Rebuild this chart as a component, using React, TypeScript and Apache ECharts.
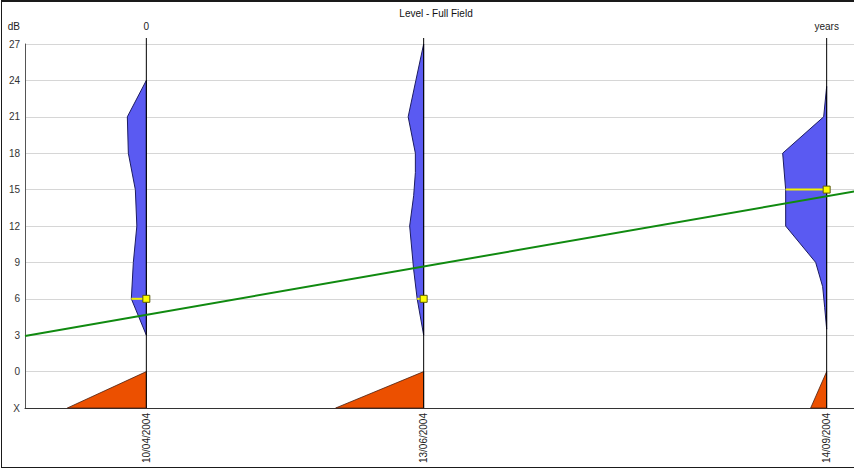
import React, { useEffect, useRef } from "react";
import * as echarts from "echarts";

const TITLE = "Level - Full Field";
const Y_NAME = "dB";
const Y_MIN = -3;
const Y_MAX = 27;
const Y_STEP = 3;
const X_RANGE = ["2004-03-13", "2004-09-21"];
const VISIT_DATES = ["2004-04-10", "2004-06-13", "2004-09-14"];
const TOP_LABELS = ["0", "", "years"];

// spread (blue profile) per visit: dB levels and widths
const SPREAD_DB_1 = [24, 21, 18, 15, 12, 9, 6, 3];
const SPREAD_W_1 = [0, 19, 18, 11, 9.5, 13, 15, 0];
const SPREAD_DB_2 = [27, 24, 21, 18, 16.4, 14.5, 12, 8.4, 6, 3];
const SPREAD_W_2 = [0, 7.8, 15.5, 8.3, 8.3, 10, 14, 10, 6.5, 0];
const SPREAD_DB_3 = [23.5, 21, 18, 15, 12, 9, 7, 5.3, 3.5];
const SPREAD_W_3 = [0, 3, 44, 41, 41, 11, 4, 2, 0];

// level marker per visit (dB)
const MARKER_DB = [6, 6, 15];
// share of "X" (orange wedge) per visit
const X_SHARE = [79, 88, 16];

// trend line
const TREND_DATES = ["2004-03-13", "2004-09-21"];
const TREND_DB = [2.93, 14.89];

const SPREADS = [
  { db: SPREAD_DB_1, w: SPREAD_W_1 },
  { db: SPREAD_DB_2, w: SPREAD_W_2 },
  { db: SPREAD_DB_3, w: SPREAD_W_3 },
];

const toMs = (s: string) => {
  const [y, m, d] = s.split("-").map(Number);
  return Date.UTC(y, m - 1, d);
};
const pad = (n: number) => (n < 10 ? "0" + n : String(n));
const fmtDate = (v: number) => {
  const d = new Date(v);
  return `${pad(d.getUTCDate())}/${pad(d.getUTCMonth() + 1)}/${d.getUTCFullYear()}`;
};

const FONT = "'Liberation Sans', Arial, sans-serif";
const SPREAD_PX = 1;

export default function App() {
  const ref = useRef<HTMLDivElement>(null);
  useEffect(() => {
    if (!ref.current) return;
    const chart = echarts.init(ref.current, undefined, { renderer: "svg" });
    const visitMs = VISIT_DATES.map(toMs);
    const xMin = toMs(X_RANGE[0]);
    const xMax = toMs(X_RANGE[1]);

    const option: any = {
      animation: false,
      backgroundColor: "#ffffff",
      textStyle: { fontFamily: FONT },
      title: {
        text: TITLE,
        left: 431,
        top: 3,
        textAlign: "center",
        textStyle: { fontSize: 10, fontWeight: "normal", color: "#111", fontFamily: FONT },
      },
      grid: { left: 25, right: 3, top: 44, bottom: 61, containLabel: false },
      xAxis: [
        {
          type: "value",
          min: xMin,
          max: xMax,
          position: "bottom",
          axisLine: { show: true, onZero: false, lineStyle: { color: "#333", width: 1 } },
          axisTick: { show: false },
          splitLine: { show: false },
          axisLabel: {
            customValues: visitMs,
            rotate: 90,
            margin: 5,
            fontSize: 10,
            color: "#222",
            fontFamily: FONT,
            formatter: (v: number) => fmtDate(v),
          },
        },
        {
          type: "value",
          min: xMin,
          max: xMax,
          position: "top",
          axisLine: { show: false, onZero: false },
          axisTick: { show: false },
          splitLine: { show: false },
          axisLabel: {
            customValues: visitMs.filter((_, i) => TOP_LABELS[i] !== ""),
            margin: 13,
            fontSize: 10,
            color: "#222",
            fontFamily: FONT,
            formatter: (v: number) => TOP_LABELS[visitMs.indexOf(v)],
          },
        },
      ],
      yAxis: {
        type: "value",
        min: Y_MIN,
        max: Y_MAX,
        interval: Y_STEP,
        name: Y_NAME,
        nameLocation: "end",
        nameGap: 13,
        nameTextStyle: { align: "right", padding: [0, 5, 0, 0], fontSize: 10, color: "#222", fontFamily: FONT },
        axisLine: { show: true, onZero: false, lineStyle: { color: "#555", width: 1 } },
        axisTick: { show: false },
        splitLine: { show: true, lineStyle: { color: "#d6d6d6", width: 1 } },
        axisLabel: {
          margin: 5,
          fontSize: 10,
          color: "#333",
          fontFamily: FONT,
          formatter: (v: number) => (v === Y_MIN ? "X" : String(v)),
        },
      },
      series: [
        {
          type: "custom",
          z: 2,
          clip: false,
          xAxisIndex: 0,
          data: visitMs.map((ms, i) => [ms, i]),
          encode: { x: 0, y: 1 },
          renderItem: (_params: any, api: any) => {
            const d = api.value(0);
            const i = api.value(1);
            const sp = SPREADS[i];
            const pts = sp.db.map((db: number, k: number) => {
              const p = api.coord([d, db]);
              return [p[0] - sp.w[k] * SPREAD_PX, p[1]];
            });
            const top = api.coord([d, Y_MAX]);
            const bot = api.coord([d, Y_MIN]);
            const zero = api.coord([d, 0]);
            const k = sp.db.indexOf(MARKER_DB[i]);
            const mw = k >= 0 ? sp.w[k] * SPREAD_PX : 0;
            const m = api.coord([d, MARKER_DB[i]]);
            return {
              type: "group",
              children: [
                {
                  type: "polygon",
                  shape: { points: [zero, bot, [bot[0] - X_SHARE[i] * SPREAD_PX, bot[1]]] },
                  style: { fill: "#ec5000", stroke: "#4a2010", lineWidth: 0.8 },
                },
                {
                  type: "polygon",
                  shape: { points: pts },
                  style: { fill: "#5a5af2", stroke: "#1c1c60", lineWidth: 1 },
                },
                {
                  type: "line",
                  shape: { x1: top[0], y1: top[1] - 6, x2: bot[0], y2: bot[1] },
                  style: { stroke: "#000", lineWidth: 1 },
                },
                {
                  type: "line",
                  shape: { x1: m[0] - mw, y1: m[1], x2: m[0], y2: m[1] },
                  style: { stroke: "#f2f200", lineWidth: 2 },
                },
                {
                  type: "rect",
                  shape: { x: m[0] - 3.5, y: m[1] - 3.5, width: 7, height: 7 },
                  style: { fill: "#ffff00", stroke: "#5a5a10", lineWidth: 1 },
                },
              ],
            };
          },
        },
        {
          type: "line",
          z: 3,
          xAxisIndex: 0,
          symbol: "none",
          lineStyle: { color: "#108a10", width: 2 },
          data: TREND_DATES.map((s, i) => [toMs(s), TREND_DB[i]]),
        },
      ],
    };
    chart.setOption(option);
    return () => chart.dispose();
  }, []);

  return (
    <div style={{ position: "fixed", left: 0, top: 0, width: 854, height: 469, overflow: "hidden", background: "#fff" }}>
      <div ref={ref} style={{ position: "absolute", left: 0, top: 0, width: 860, height: 469 }} />
      <div
        style={{
          position: "absolute",
          left: 1,
          top: 0,
          width: 900,
          height: 468,
          boxSizing: "border-box",
          borderTop: "2px solid #1a1a1a",
          borderLeft: "1px solid #1a1a1a",
          borderBottom: "1px solid #1a1a1a",
          pointerEvents: "none",
        }}
      />
    </div>
  );
}
